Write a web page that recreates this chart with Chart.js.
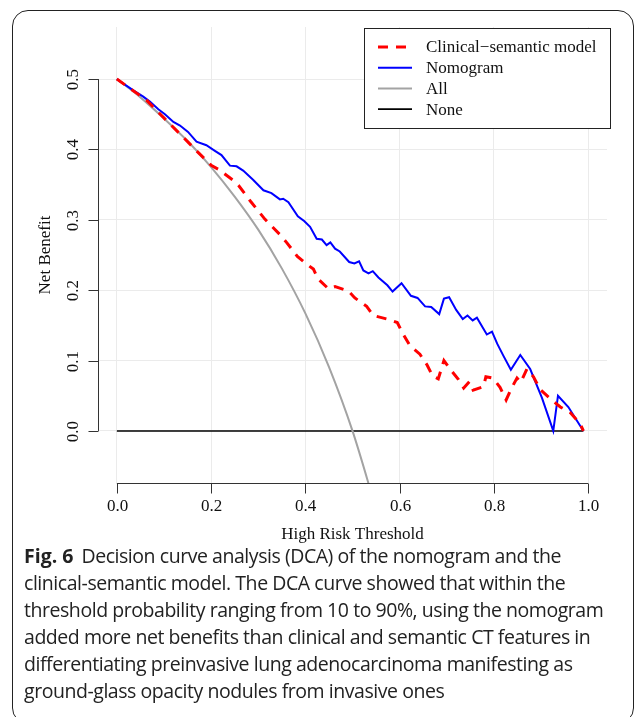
<!DOCTYPE html>
<html>
<head>
<meta charset="utf-8">
<script src="https://cdn.jsdelivr.net/npm/chart.js@4/dist/chart.umd.min.js"></script>
<style>
  body { margin: 0; background: #fff; width: 637px; height: 717px; overflow: hidden; position: relative; }
  #frame { position: absolute; left: 12px; top: 10px; width: 620px; height: 712px; border: 1px solid #222; border-radius: 16px; }
  #my-chart { position: absolute; left: 0; top: 0; }
  #caption { position: absolute; left: 24px; top: 542px; font-family: 'Open Sans', sans-serif; font-size: 19.5px; line-height: 27px; color: #222; letter-spacing: -0.45px; white-space: nowrap; }
  #caption b { font-weight: 700; margin-right: 8px; letter-spacing: 0; }
</style>
</head>
<body>
<div id="frame"></div>
<canvas id="my-chart" width="637" height="545"></canvas>
<div id="caption"><b>Fig. 6</b>Decision curve analysis (DCA) of the nomogram and the<br>clinical-semantic model. The DCA curve showed that within the<br>threshold probability ranging from 10 to 90%, using the nomogram<br>added more net benefits than clinical and semantic CT features in<br>differentiating preinvasive lung adenocarcinoma manifesting as<br>ground-glass opacity nodules from invasive ones</div>
<script>
//Data
let clinX = [0, 0.042, 0.063, 0.098, 0.137, 0.169, 0.201, 0.215, 0.247, 0.258, 0.284, 0.314, 0.346, 0.36, 0.383, 0.401, 0.417, 0.427, 0.449, 0.463, 0.491, 0.505, 0.53, 0.544, 0.573, 0.595, 0.608, 0.622, 0.643, 0.658, 0.67, 0.682, 0.694, 0.707, 0.725, 0.736, 0.748, 0.756, 0.778, 0.783, 0.798, 0.813, 0.826, 0.836, 0.849, 0.857, 0.87, 0.884, 0.898, 0.916, 0.941, 0.962, 0.983, 0.99];
let clinY = [0.5, 0.48, 0.47, 0.446, 0.42, 0.398, 0.377, 0.372, 0.356, 0.349, 0.326, 0.301, 0.279, 0.268, 0.248, 0.238, 0.23, 0.216, 0.202, 0.205, 0.199, 0.189, 0.177, 0.164, 0.159, 0.154, 0.137, 0.121, 0.109, 0.094, 0.078, 0.074, 0.1, 0.088, 0.073, 0.061, 0.07, 0.058, 0.063, 0.077, 0.075, 0.062, 0.044, 0.059, 0.075, 0.069, 0.088, 0.077, 0.059, 0.048, 0.034, 0.026, 0.01, 0];

let nomoX = [0, 0.035, 0.056, 0.07, 0.088, 0.102, 0.12, 0.134, 0.151, 0.169, 0.19, 0.208, 0.222, 0.24, 0.254, 0.268, 0.289, 0.311, 0.328, 0.346, 0.353, 0.364, 0.384, 0.398, 0.41, 0.424, 0.435, 0.445, 0.453, 0.463, 0.473, 0.493, 0.504, 0.514, 0.523, 0.534, 0.543, 0.555, 0.574, 0.585, 0.604, 0.624, 0.638, 0.654, 0.667, 0.684, 0.694, 0.705, 0.72, 0.734, 0.744, 0.755, 0.764, 0.785, 0.796, 0.807, 0.82, 0.836, 0.856, 0.877, 0.902, 0.926, 0.936, 0.958, 0.99];
let nomoY = [0.5, 0.484, 0.475, 0.468, 0.457, 0.45, 0.439, 0.434, 0.425, 0.411, 0.406, 0.398, 0.392, 0.377, 0.376, 0.37, 0.357, 0.342, 0.338, 0.329, 0.33, 0.325, 0.305, 0.298, 0.29, 0.273, 0.272, 0.264, 0.268, 0.259, 0.255, 0.24, 0.238, 0.241, 0.228, 0.224, 0.227, 0.218, 0.207, 0.198, 0.21, 0.192, 0.189, 0.177, 0.176, 0.166, 0.188, 0.19, 0.172, 0.159, 0.164, 0.157, 0.161, 0.137, 0.141, 0.124, 0.107, 0.087, 0.108, 0.088, 0.047, 0, 0.05, 0.034, 0];

let allX = [0, 0.05, 0.1, 0.15, 0.2, 0.25, 0.3, 0.35, 0.4, 0.45, 0.5, 0.55];
let allY = [0.5, 0.474, 0.444, 0.412, 0.375, 0.333, 0.286, 0.231, 0.167, 0.091, 0, -0.111];

let noneX = [0, 0.99];
let noneY = [0, 0];

let xTicks = [0, 0.2, 0.4, 0.6, 0.8, 1.0];
let yTicks = [0, 0.1, 0.2, 0.3, 0.4, 0.5];

let seriesNames = ['Clinical\u2212semantic model', 'Nomogram', 'All', 'None'];

let ctx = document.getElementById('my-chart');

function toPoints(xs, ys) {
  let pts = [];
  for (let i = 0; i < xs.length; i++) {
    pts.push({ x: xs[i], y: ys[i] });
  }
  return pts;
}

//R style axes, titles and legend box
let rAxes = {
  id: 'rAxes',
  afterDraw(chart) {
    let c = chart.ctx;
    let xs = chart.scales.x;
    let ys = chart.scales.y;
    let area = chart.chartArea;
    c.save();
    c.strokeStyle = '#333';
    c.fillStyle = '#111';
    c.lineWidth = 1;
    c.font = '17px "Liberation Serif"';

    // x axis
    let yb = Math.round(area.bottom) + 0.5;
    c.beginPath();
    c.moveTo(xs.getPixelForValue(xTicks[0]), yb);
    c.lineTo(xs.getPixelForValue(xTicks[xTicks.length - 1]), yb);
    c.textAlign = 'center';
    c.textBaseline = 'middle';
    for (let i = 0; i < xTicks.length; i++) {
      let px = Math.round(xs.getPixelForValue(xTicks[i])) + 0.5;
      c.moveTo(px, yb);
      c.lineTo(px, yb + 10);
      c.fillText(xTicks[i].toFixed(1), px, yb + 23);
    }
    c.stroke();
    c.fillText('High Risk Threshold', (xs.getPixelForValue(0) + xs.getPixelForValue(1)) / 2, yb + 51);

    // y axis
    let xl = Math.round(area.left) + 0.5;
    c.beginPath();
    c.moveTo(xl, ys.getPixelForValue(yTicks[0]));
    c.lineTo(xl, ys.getPixelForValue(yTicks[yTicks.length - 1]));
    for (let i = 0; i < yTicks.length; i++) {
      let py = Math.round(ys.getPixelForValue(yTicks[i])) + 0.5;
      c.moveTo(xl, py);
      c.lineTo(xl - 10, py);
      c.save();
      c.translate(xl - 25, py);
      c.rotate(-Math.PI / 2);
      c.fillText(yTicks[i].toFixed(1), 0, 0);
      c.restore();
    }
    c.stroke();
    c.save();
    c.translate(xl - 53, (ys.getPixelForValue(0) + ys.getPixelForValue(0.5)) / 2);
    c.rotate(-Math.PI / 2);
    c.fillText('Net Benefit', 0, 0);
    c.restore();

    // legend
    let bx = 364.5, by = 28.5, bw = 246, bh = 100;
    c.fillStyle = '#fff';
    c.fillRect(bx, by, bw, bh);
    c.strokeStyle = '#222';
    c.strokeRect(bx, by, bw, bh);
    c.textAlign = 'left';
    c.fillStyle = '#111';
    chart.data.datasets.forEach((ds, i) => {
      let ry = 47 + i * 20.7;
      c.save();
      c.strokeStyle = ds.borderColor;
      c.lineWidth = ds.borderWidth;
      c.setLineDash(ds.borderDash || []);
      c.beginPath();
      c.moveTo(378, ry);
      c.lineTo(412, ry);
      c.stroke();
      c.restore();
      c.fillText(ds.label, 426, ry + 1);
    });
    c.restore();
  }
};

let chartObject = {
  type: 'line',
  data: {
    datasets: [{
      label: seriesNames[0],
      data: toPoints(clinX, clinY),
      borderColor: 'red',
      borderWidth: 3,
      borderDash: [10, 8],
      pointRadius: 0,
      tension: 0
    },
    {
      label: seriesNames[1],
      data: toPoints(nomoX, nomoY),
      borderColor: 'blue',
      borderWidth: 2,
      pointRadius: 0,
      tension: 0
    },
    {
      label: seriesNames[2],
      data: toPoints(allX, allY),
      borderColor: '#a3a3a3',
      borderWidth: 2,
      pointRadius: 0,
      cubicInterpolationMode: 'monotone'
    },
    {
      label: seriesNames[3],
      data: toPoints(noneX, noneY),
      borderColor: '#000',
      borderWidth: 1.6,
      pointRadius: 0
    }]
  },
  options: {
    responsive: false,
    animation: false,
    devicePixelRatio: 1,
    layout: { padding: { left: 98, top: 27, right: 30, bottom: 62 } },
    plugins: { legend: { display: false }, tooltip: { enabled: false } },
    scales: {
      x: {
        type: 'linear',
        min: -0.04,
        max: 1.04,
        afterBuildTicks: (s) => { s.ticks = xTicks.map(v => ({ value: v })); },
        ticks: { display: false },
        grid: { color: '#ebebeb', drawTicks: false },
        border: { display: false }
      },
      y: {
        type: 'linear',
        min: -0.074,
        max: 0.574,
        afterBuildTicks: (s) => { s.ticks = yTicks.map(v => ({ value: v })); },
        ticks: { display: false },
        grid: { color: '#ebebeb', drawTicks: false },
        border: { display: false }
      }
    }
  },
  plugins: [rAxes]
};

const myChart = new Chart(ctx, chartObject); //eslint-disable-line
</script>
</body>
</html>
